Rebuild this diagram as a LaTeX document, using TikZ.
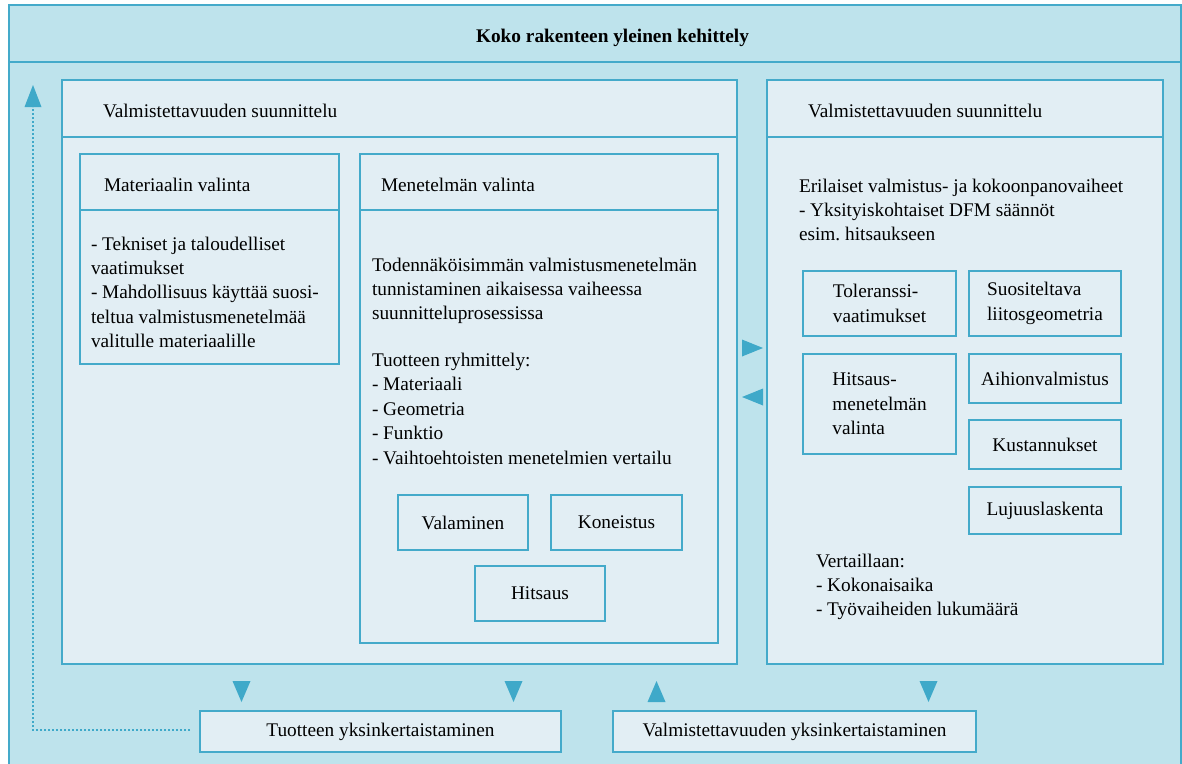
\documentclass[tikz,border=0pt]{standalone}
\usepackage{fontspec}
\setmainfont{Liberation Serif}
\usetikzlibrary{calc}
\definecolor{bgblue}{HTML}{BEE3EC}
\definecolor{paleblue}{HTML}{E2EEF4}
\definecolor{edgeblue}{HTML}{44AACA}
\definecolor{tipblue}{HTML}{3FA9C9}
\frenchspacing

\begin{document}
\begin{tikzpicture}[x=1pt,y=-1pt,
  every node/.style={inner sep=0pt, outer sep=0pt, text=black,
    font=\fontsize{19.3}{24.4}\selectfont},
  frame/.style={draw=edgeblue, line width=1.6pt, anchor=north west},
  pane/.style={frame, fill=paleblue},
  rule/.style={draw=edgeblue, line width=1.6pt},
  tip/.style={fill=tipblue},
  dotline/.style={draw=tipblue, line width=2pt, dash pattern=on 1.8pt off 2.2pt},
  % multi-line text blocks are placed by the baseline of their last line
  block/.style={anchor=base west, align=left},
]
\useasboundingbox (0,0) rectangle (1182,763);

% outer frame with the title band
\node[frame, fill=bgblue, minimum width=1172, minimum height=790] (outer) at (9,5) {};
\draw[rule] (9,62) -- (1181,62);
\node[anchor=base] (title) at (612.5,42) {\bfseries Koko rakenteen yleinen kehittely};

% left design panel
\node[pane, minimum width=675, minimum height=584] (design) at (62,80) {};
\draw[rule] (62,137) -- (737,137);
\node[anchor=west] (designhead) at (103,110.5) {Valmistettavuuden suunnittelu};

% material selection
\node[pane, minimum width=259, minimum height=210] (mat) at (80,154) {};
\draw[rule] (80,210) -- (339,210);
\node[anchor=west] (mathead) at (104,185) {Materiaalin valinta};
\node[block] (matbody) at (91,347.6) {- Tekniset ja taloudelliset\\vaatimukset\\- Mahdollisuus käyttää suosi-\\teltua valmistusmenetelmää\\valitulle materiaalille};

% process selection
\node[pane, minimum width=358, minimum height=489] (men) at (360,154) {};
\draw[rule] (360,210) -- (718,210);
\node[anchor=west] (menhead) at (381,185) {Menetelmän valinta};
\node[block] (menbodya) at (372,319.8) {Todennäköisimmän valmistusmenetelmän\\tunnistaminen aikaisessa vaiheessa\\suunnitteluprosessissa};
\node[block] (menbodyb) at (372,464) {Tuotteen ryhmittely:\\- Materiaali\\- Geometria\\- Funktio\\- Vaihtoehtoisten menetelmien vertailu};
\node[pane, minimum width=130, minimum height=55] (val) at (398,495) {};
\node at (val.center) {Valaminen};
\node[pane, minimum width=131, minimum height=55] (kon) at (551,495) {};
\node at (kon.center) {Koneistus};
\node[pane, minimum width=130, minimum height=55] (hit) at (475,566) {};
\node at (hit.center) {Hitsaus};

% right design panel
\node[pane, minimum width=396, minimum height=584] (rdesign) at (767,80) {};
\draw[rule] (767,137) -- (1163,137);
\node[anchor=west] (rdesignhead) at (808,110.5) {Valmistettavuuden suunnittelu};
\node[block] (rbody) at (799,240.8) {Erilaiset valmistus- ja kokoonpanovaiheet\\- Yksityiskohtaiset DFM säännöt\\esim. hitsaukseen};
\node[pane, minimum width=153, minimum height=65] (tol) at (803,271) {};
\node[align=left] at (tol.center) {Toleranssi-\\vaatimukset};
\node[pane, minimum width=152, minimum height=65] (suo) at (969,271) {};
\node[align=left] at (suo.center) {Suositeltava\\liitosgeometria};
\node[pane, minimum width=153, minimum height=100] (hme) at (803,354) {};
\node[align=left] at (hme.center) {Hitsaus-\\menetelmän\\valinta};
\node[pane, minimum width=152, minimum height=49] (aih) at (969,354) {};
\node at (aih.center) {Aihionvalmistus};
\node[pane, minimum width=152, minimum height=49] (kus) at (969,420) {};
\node at (kus.center) {Kustannukset};
\node[pane, minimum width=152, minimum height=47] (luj) at (969,487) {};
\node at (luj.center) {Lujuuslaskenta};
\node[block] (cmp) at (816,615.8) {Vertaillaan:\\- Kokonaisaika\\- Työvaiheiden lukumäärä};

% simplification boxes
\node[pane, minimum width=361, minimum height=41] (tuo) at (200,711) {};
\node at (tuo.center) {Tuotteen yksinkertaistaminen};
\node[pane, minimum width=363, minimum height=41] (vys) at (613,711) {};
\node at (vys.center) {Valmistettavuuden yksinkertaistaminen};

% arrow heads between the panels
\fill[tip] (742,339.5) -- (742,356.5) -- (763,348) -- cycle;
\fill[tip] (763,388.5) -- (763,405.5) -- (742,397) -- cycle;
\fill[tip] (232.5,681) -- (250.5,681) -- (241.5,702) -- cycle;
\fill[tip] (504.5,681) -- (522.5,681) -- (513.5,702) -- cycle;
\fill[tip] (647.5,702) -- (665.5,702) -- (656.5,681) -- cycle;
\fill[tip] (919.5,681) -- (937.5,681) -- (928.5,702) -- cycle;

% dotted feedback loop
\coordinate (loopend) at (33,107);
\coordinate (loopstart) at ($(tuo.west)+(-10,-1.5)$);
\draw[dotline] (loopstart) -| (loopend);
\fill[tip] (24.5,107) -- (41.5,107) -- (33,85) -- cycle;
\end{tikzpicture}
\end{document}
